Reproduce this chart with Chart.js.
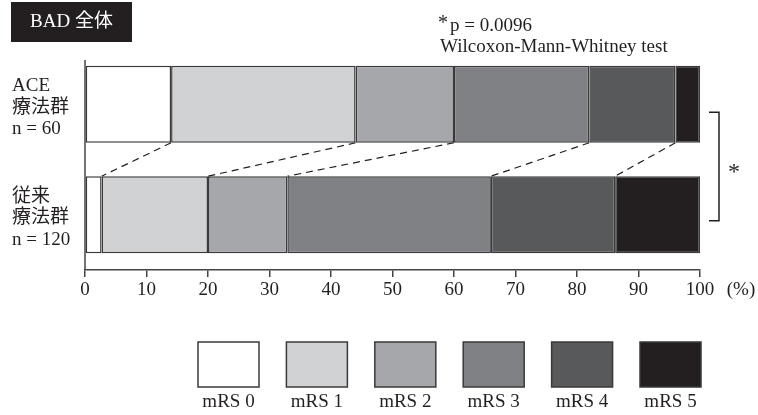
<!DOCTYPE html>
<html>
<head>
<meta charset="utf-8">
<script src="https://cdn.jsdelivr.net/npm/chart.js@4"></script>
<style>
  body { margin: 0; background: #fff; }
  canvas { display: block; }
</style>
</head>
<body>
<canvas id="chart" width="758" height="415"></canvas>
<script>
const groups = [["ACE", "療法群", "n = 60"], ["従来", "療法群", "n = 120"]]
const grades = ["mRS 0", "mRS 1", "mRS 2", "mRS 3", "mRS 4", "mRS 5"]
const aceValues = [14, 30, 16, 22, 14, 4]
const convValues = [2.7, 17.3, 12.9, 33.1, 20.2, 13.8]
const xTicks = [0, 10, 20, 30, 40, 50, 60, 70, 80, 90, 100]
const colors = ["#ffffff", "#d1d2d4", "#a6a7aa", "#808184", "#58595b", "#231f20"]

const ink = "#231f20"
const serif = "'Liberation Serif', 'Noto Sans CJK JP', serif"

const datasets = grades.map((g, i) => ({
    label: g,
    data: [aceValues[i], convValues[i]],
    backgroundColor: colors[i],
    borderColor: "#3a3a3a",
    borderWidth: 1.5,
    borderSkipped: false,
    categoryPercentage: 1,
    barPercentage: 0.697
}))

// dashed connectors, bracket, header texts and legend
const extras = {
    id: "extras",
    afterDatasetsDraw(chart) {
        const c = chart.ctx
        const area = chart.chartArea
        const xs = chart.scales.x
        c.save()

        // y axis line
        c.strokeStyle = "#444"
        c.lineWidth = 1.5
        c.beginPath()
        c.moveTo(area.left, area.top + 11)
        c.lineTo(area.left, area.bottom)
        c.stroke()

        // dashed lines between segment boundaries
        c.strokeStyle = ink
        c.lineWidth = 1.2
        c.setLineDash([7, 5])
        for (let i = 0; i < grades.length - 1; i++) {
            const meta = chart.getDatasetMeta(i)
            const a = meta.data[0], b = meta.data[1]
            c.beginPath()
            c.moveTo(a.x, a.y + a.height / 2)
            c.lineTo(b.x, b.y - b.height / 2)
            c.stroke()
        }
        c.setLineDash([])

        // significance bracket
        const topMid = chart.getDatasetMeta(0).data[0].y
        const botMid = chart.getDatasetMeta(0).data[1].y
        c.lineWidth = 1.5
        c.beginPath()
        c.moveTo(area.right + 9, topMid + 8)
        c.lineTo(area.right + 19, topMid + 8)
        c.lineTo(area.right + 19, botMid + 6)
        c.lineTo(area.right + 9, botMid + 6)
        c.stroke()

        c.fillStyle = ink
        c.font = "24px " + serif
        c.textAlign = "center"
        c.textBaseline = "middle"
        c.fillText("*", area.right + 34, (topMid + botMid) / 2 + 13)

        // unit
        c.font = "19px " + serif
        c.fillText("(%)", xs.getPixelForValue(100) + 41, area.bottom + 20)

        // title box
        c.fillStyle = ink
        c.fillRect(11, 2, 121, 40)
        c.fillStyle = "#fff"
        c.font = "19px " + serif
        c.fillText("BAD 全体", 71.5, 22.5)

        // p value
        c.fillStyle = ink
        c.textAlign = "left"
        c.font = "20px " + serif
        c.fillText("*", 438, 24)
        c.font = "19px " + serif
        c.fillText("p = 0.0096", 450, 26)
        c.fillText("Wilcoxon-Mann-Whitney test", 440, 47)

        // legend
        const step = 88.4
        c.lineWidth = 1.5
        c.strokeStyle = "#3a3a3a"
        c.textAlign = "center"
        chart.data.datasets.forEach((ds, i) => {
            const x = 198 + i * step
            c.fillStyle = ds.backgroundColor
            c.fillRect(x, 342, 61, 45)
            c.strokeRect(x, 342, 61, 45)
            c.fillStyle = ink
            c.fillText(ds.label, x + 30.5, 402)
        })
        c.restore()
    }
}

const ctx = document.getElementById("chart").getContext("2d")

new Chart(ctx, {
    type: "bar",
    data: {
        labels: groups,
        datasets: datasets
    },
    options: {
        indexAxis: "y",
        responsive: false,
        animation: false,
        layout: { padding: { left: 12, right: 58, top: 49, bottom: 115 } },
        plugins: {
            legend: { display: false },
            tooltip: { enabled: false }
        },
        scales: {
            x: {
                stacked: true,
                min: 0,
                max: 100,
                afterFit: s => { s.height = 30 },
                afterBuildTicks: s => { s.ticks = xTicks.map(v => ({ value: v })) },
                border: { display: true, color: "#444", width: 1.5 },
                grid: { drawOnChartArea: false, drawTicks: true, tickLength: 7, color: "#444", lineWidth: 1.5 },
                ticks: { color: ink, font: { family: serif, size: 19 }, padding: 2, maxRotation: 0 }
            },
            y: {
                stacked: true,
                afterFit: s => { s.width = 73 },
                border: { display: false },
                grid: { display: false },
                ticks: {
                    color: ink,
                    crossAlign: "far",
                    labelOffset: 3.5,
                    font: { family: serif, size: 19, lineHeight: 1.13 }
                }
            }
        }
    },
    plugins: [extras]
})
</script>
</body>
</html>
